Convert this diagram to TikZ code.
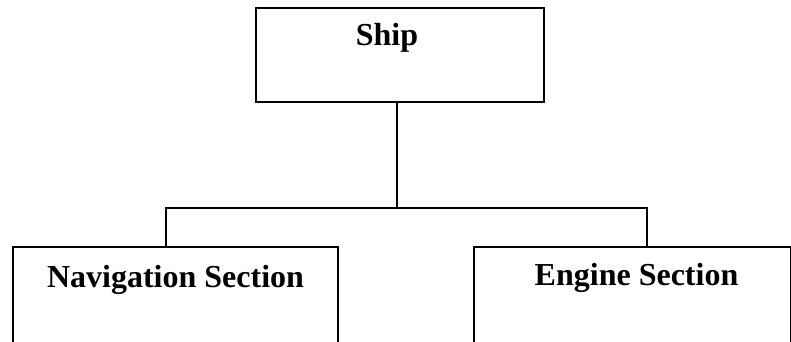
\documentclass[tikz,border=0pt]{standalone}
\usepackage{fontspec}
\setmainfont{Liberation Serif}
\begin{document}
\begin{tikzpicture}[x=1pt,y=-1pt,
  box/.style={draw, line width=2pt, inner sep=0pt},
  link/.style={line width=1.5pt},
  lbl/.style={font=\bfseries\fontsize{32}{36}\selectfont, anchor=base, inner sep=0pt}]
\useasboundingbox (0,0) rectangle (791,341);
\clip (0,0) rectangle (791,341);
% top unit
\node[box, minimum width=288pt, minimum height=94pt, anchor=north west] (ship) at (255,7) {};
\node[lbl] (shiplbl) at (387,45) {Ship};
% the two sections; their lower edges run past the page
\node[box, minimum width=325pt, minimum height=150pt, anchor=north west] (nav) at (12,246) {};
\node[lbl] (navlbl) at (175.5,287) {Navigation Section};
\node[box, minimum width=317pt, minimum height=150pt, anchor=north west] (eng) at (473,246) {};
\node[lbl] (englbl) at (636.5,285) {Engine Section};
% branching connector
\coordinate (bar) at (397,208);
\coordinate (navtap) at (166,246);
\coordinate (engtap) at (647,246);
\draw[link] (ship.south -| bar) -- (bar);
\draw[link] (navtap) |- (bar) -| (engtap);
\end{tikzpicture}
\end{document}
